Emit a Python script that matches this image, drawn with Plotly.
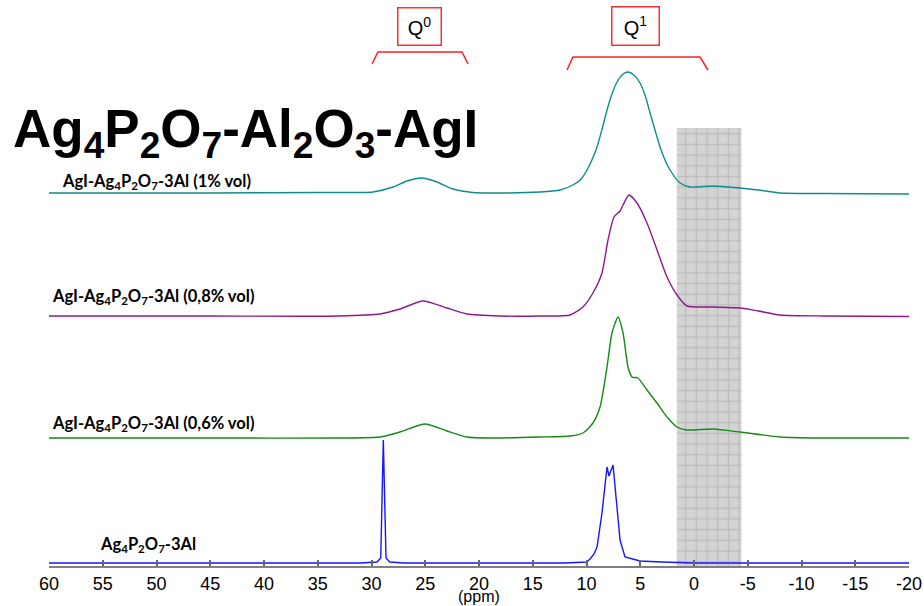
import plotly.graph_objects as go

# ---------------- data ----------------
tick_vals = [60, 55, 50, 45, 40, 35, 30, 25, 20, 15, 10, 5, 0, -5, -10, -15, -20]
tick_text = ["60", "55", "50", "45", "40", "35", "30", "25", "20", "15", "10", "5", "0", "-5", "-10", "-15", "-20"]

series_names = [
    "AgI-Ag<sub>4</sub>P<sub>2</sub>O<sub>7</sub>-3Al (1% vol)",
    "AgI-Ag<sub>4</sub>P<sub>2</sub>O<sub>7</sub>-3Al (0,8% vol)",
    "AgI-Ag<sub>4</sub>P<sub>2</sub>O<sub>7</sub>-3Al (0,6% vol)",
    "Ag<sub>4</sub>P<sub>2</sub>O<sub>7</sub>-3Al",
]

teal_ppm = [60, 45, 35, 31, 29.86, 28.0, 26.7, 25.3, 23.91, 22.42, 20.56, 18, 14.33, 12.47, 11.26, 10.5,
            9.95, 9.5, 9.02, 8.5, 8.09, 7.6, 7.16, 6.6, 6.14, 5.6, 5.02, 4.5, 4.09, 3.6, 3.16, 2.7, 2.23,
            1.30, 0.37, -1.77, -4.28, -6, -8, -12, -20]
teal_int = [0, 0, 0.5, 0.5, 1, 6, 12, 15, 11, 4, 0.5, 0, 1, 3, 8, 14,
            23, 33, 46, 66, 83, 100, 111, 119, 121, 118, 110, 96, 80, 62, 46, 33, 23,
            10, 6, 7, 5, 3, 0, -0.5, -1]

purple_ppm = [60, 45, 33, 29.21, 27.35, 25.21, 22.98, 21.12, 18.05, 14.33, 11.53, 10.33, 9.4, 8.56, 8.0,
              7.44, 6.88, 6.6, 6.05, 5.3, 4.37, 3.44, 2.51, 1.58, 0.65, -1.77, -4.28, -6, -8, -12, -20]
purple_int = [0, 0, 0, 2, 7, 15, 8, 2, 0, 0, 1, 9, 23, 43, 76,
              99, 105, 111, 121, 113, 93, 66, 39, 21, 10, 9, 8, 5, 1, 0, -0.5]

green_ppm = [60, 45, 33, 29.21, 27.35, 25.02, 22.98, 21.12, 18.7, 14.33, 11.53, 10.33, 9.4, 8.74, 8.09,
             7.63, 7.07, 6.6, 6.14, 5.77, 5.21, 4.37, 3.44, 2.51, 1.58, 0.65, -1.77, -4.28, -8, -12, -20]
green_int = [0, 0, 0, 1, 6, 14, 7, 1, 0, 1, 2, 5, 15, 31, 71,
             105, 121, 105, 71, 61, 60, 48, 35, 21, 11, 8, 9, 6, 1, 0, 0]

blue_ppm = [60, 31, 29.5, 29.14, 28.9, 28.65, 28.3, 27, 12, 10, 9.67, 9.3, 9.02, 8.56, 8.09, 7.91,
            7.53, 7.16, 6.88, 6.42, 5.5, 5.02, 3, 0, -20]
blue_int = [0, 0, 1, 5, 123, 5, 1, 0, 0, 1, 4, 9, 16, 50, 96, 87,
            98, 56, 23, 6, 3, 2, 1, 0, 0]

# vertical stacking offsets of each spectrum
offsets = [373, 250, 128, 3]
colors = ["#0f8c8c", "#8c1a8c", "#158a15", "#1515ff"]

# shaded region (ppm) and its top
shade_x0, shade_x1, shade_top = 1.6, -4.4, 438

# ---------------- figure ----------------
fig = go.Figure()

fig.add_trace(go.Bar(
    x=[(shade_x0 + shade_x1) / 2], y=[shade_top], base=[0], width=[shade_x0 - shade_x1],
    marker=dict(color="#d4d4d4", line=dict(width=0),
                pattern=dict(shape="+", size=10.7, solidity=0.25, fgcolor="#a8a8a8", bgcolor="#d4d4d4")),
    showlegend=False, hoverinfo="skip"))

spectra = [(teal_ppm, teal_int), (purple_ppm, purple_int), (green_ppm, green_int), (blue_ppm, blue_int)]
for i, (xs, ys) in enumerate(spectra):
    shape = "linear" if i == 3 else "spline"
    fig.add_trace(go.Scatter(
        x=xs, y=[v + offsets[i] for v in ys], mode="lines",
        line=dict(color=colors[i], width=1.4, shape=shape, smoothing=0.6),
        showlegend=False, hoverinfo="skip"))

# series labels: (ppm of left edge, y centre)
label_pos = [(58.98, 385), (59.91, 270), (59.91, 143), (55.4, 22)]
annotations = []
for name, (lx, ly) in zip(series_names, label_pos):
    annotations.append(dict(x=lx, y=ly, xref="x", yref="y", text=name, showarrow=False,
                            xanchor="left", yanchor="middle",
                            font=dict(family="Lato", size=16.5, color="black", weight="bold")))

# big title
annotations.append(dict(x=0, xshift=-38, xref="paper", y=434, yref="y",
                        text="Ag<sub>4</sub>P<sub>2</sub>O<sub>7</sub>-Al<sub>2</sub>O<sub>3</sub>-AgI",
                        showarrow=False, xanchor="left", yanchor="middle",
                        font=dict(family="Liberation Sans", size=53, color="black", weight="bold")))

# Q boxes
q_boxes = [(25.49, 540, "Q<sup>0</sup>", 40, 34), (5.40, 540, "Q<sup>1</sup>", 44, 35)]
for qx, qy, qt, w, h in q_boxes:
    annotations.append(dict(x=qx, y=qy, xref="x", yref="y", text=qt, showarrow=False,
                            width=w, height=h, bordercolor="#ff3030", borderwidth=1.5, borderpad=1,
                            font=dict(family="Liberation Sans", size=20, color="black")))

# axis title
annotations.append(dict(x=0.5, y=0, xref="paper", yref="paper", yshift=-30, text="(ppm)",
                        showarrow=False, yanchor="middle",
                        font=dict(family="Liberation Sans", size=16, color="black")))

# red brackets (outer foot, inner shoulder, top, foot y)
brackets = [(29.95, 29.4, 21.58, 21.02, 514, 502), (11.81, 11.26, -0.56, -1.30, 509, 496)]
shapes = []
for a, b, c, d, top, foot in brackets:
    shapes.append(dict(type="path", xref="x", yref="y",
                       path=f"M {a},{foot} L {b},{top} L {c},{top} L {d},{foot}",
                       line=dict(color="#ff2020", width=1.5)))

fig.update_layout(
    width=924, height=606,
    margin=dict(l=49, r=15, t=0, b=40),
    paper_bgcolor="white", plot_bgcolor="white",
    barmode="overlay",
    xaxis=dict(range=[60, -20], tickmode="array", tickvals=tick_vals, ticktext=tick_text,
               ticks="inside", ticklen=6, tickwidth=1.5, tickcolor="#666666",
               showline=True, linecolor="#808080", linewidth=2,
               showgrid=False, zeroline=False, fixedrange=True,
               tickfont=dict(family="Liberation Sans", size=18, color="black")),
    yaxis=dict(range=[0, 566], visible=False, fixedrange=True),
    annotations=annotations, shapes=shapes,
)

fig.write_html("out.html", config={"displayModeBar": False},
               post_script="document.body.style.margin='0';document.body.style.overflow='hidden';")
